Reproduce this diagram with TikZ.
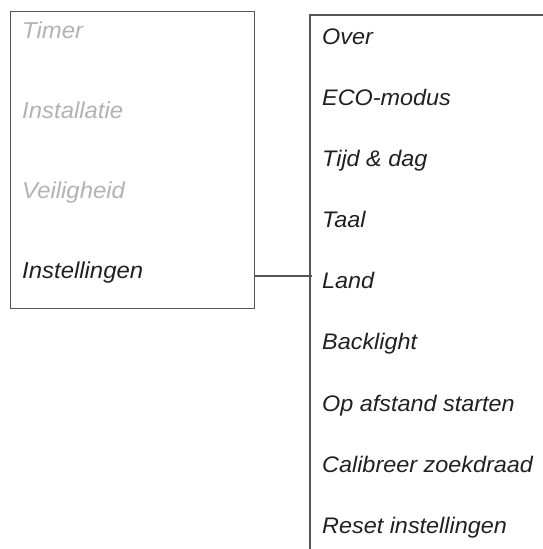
\documentclass[tikz,border=0pt]{standalone}
\usepackage{fontspec}
\setmainfont{Liberation Sans}
\newfontfamily\menufont[FakeStretch=1.04]{Liberation Sans}
\definecolor{linegray}{RGB}{85,85,85}
\definecolor{dimtext}{RGB}{178,178,180}
\definecolor{darktext}{RGB}{35,31,32}
\begin{document}
\begin{tikzpicture}[x=1pt,y=-1pt,
  menuline/.style={draw=linegray,line width=1.3pt},
  lefttext/.style={anchor=base west,inner sep=0pt,font=\menufont\fontsize{23}{27}\selectfont\itshape},
  righttext/.style={anchor=base west,inner sep=0pt,text=darktext,font=\menufont\fontsize{22.5}{27}\selectfont\itshape}]
\useasboundingbox (0,0) rectangle (543,549);
% left menu box
\node[menuline,rectangle,minimum width=244pt,minimum height=297pt,anchor=north west,inner sep=0pt] (lbox) at (10,11) {};
\node[lefttext,text=dimtext] (timer) at (22,38) {Timer};
\node[lefttext,text=dimtext] (inst) at (22,118) {Installatie};
\node[lefttext,text=dimtext] (veil) at (22,198) {Veiligheid};
\node[lefttext,text=darktext] (instel) at (22,278) {Instellingen};
% right submenu
\coordinate (rtop) at (543,15);
\coordinate (rcorner) at (310,15);
\coordinate (rbottom) at (310,549);
\draw[menuline] (rtop) -- (rcorner) -- (rbottom);
\coordinate (join) at (312,276);
\draw[menuline] (lbox.east |- join) -- (join);
\node[righttext] (over) at (322,44) {Over};
\node[righttext] (eco) at (322,105) {ECO-modus};
\node[righttext] (tijd) at (322,166) {Tijd \& dag};
\node[righttext] (taal) at (322,227) {Taal};
\node[righttext] (land) at (322,288) {Land};
\node[righttext] (back) at (322,349) {Backlight};
\node[righttext] (op) at (322,411) {Op afstand starten};
\node[righttext] (cal) at (322,472) {Calibreer zoekdraad};
\node[righttext] (reset) at (322,533) {Reset instellingen};
\end{tikzpicture}
\end{document}
